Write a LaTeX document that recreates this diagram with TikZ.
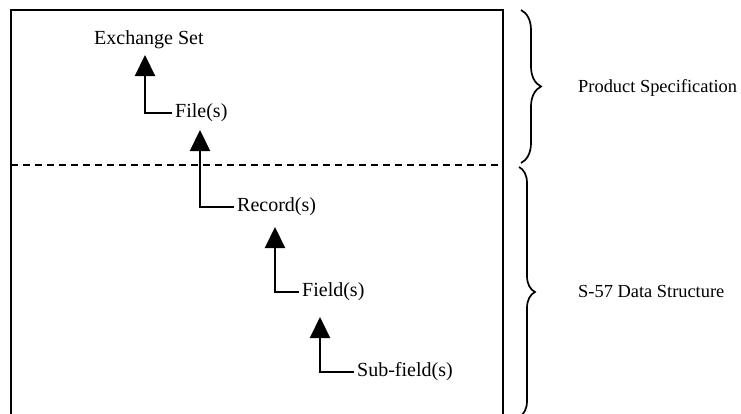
\documentclass[tikz,border=0pt]{standalone}
\usepackage{fontspec}
\setmainfont{Liberation Serif}
\usetikzlibrary{arrows.meta,decorations.pathreplacing}

\begin{document}
\begin{tikzpicture}[x=1pt,y=-1pt,
  lbl/.style={anchor=west,inner sep=0pt,font=\fontsize{20}{23}\selectfont},
  side/.style={anchor=west,inner sep=0pt,font=\fontsize{18.4}{21}\selectfont},
  frame/.style={line width=1.9pt},
  divider/.style={line width=1.5pt,dash pattern=on 7pt off 5pt},
  uparrow/.style={line width=2.2pt,-{Triangle[width=20pt,length=21pt]}},
  bracket/.style={line width=1.7pt,decorate,decoration={brace,amplitude=#1}}
]
\useasboundingbox (0,0) rectangle (741,413);

% outer frame (open at the bottom) and the dashed divider
\draw[frame] (11,420) -- (11,10) -- (503,10) -- (503,420);
\draw[divider] (11,165) -- (503,165);

% hierarchy labels
\node[lbl] (exch)   at (94,40)   {Exchange Set};
\node[lbl] (file)   at (175,113) {File(s)};
\node[lbl] (record) at (237,207) {Record(s)};
\node[lbl] (field)  at (302,292) {Field(s)};
\node[lbl] (sub)    at (357,372) {Sub-field(s)};

% arrow tips just below each parent label
\coordinate (t1) at (145,55);
\coordinate (t2) at (200,130);
\coordinate (t3) at (275,227);
\coordinate (t4) at (320,317);

\draw[uparrow] ([xshift=-3pt]file.west)   -| (t1);
\draw[uparrow] ([xshift=-3pt]record.west) -| (t2);
\draw[uparrow] ([xshift=-3pt]field.west)  -| (t3);
\draw[uparrow] ([xshift=-3pt]sub.west)    -| (t4);

% braces and their captions
\coordinate (b1s) at (521,10);
\coordinate (b1e) at (521,163);
\coordinate (b2s) at (519,167);
\coordinate (b2e) at (519,417);
\draw[bracket=20pt] (b1s) -- (b1e);
\draw[bracket=16pt] (b2s) -- (b2e);

\node[side] (prod) at (578,88)  {Product Specification};
\node[side] (s57)  at (578,291) {S-57 Data Structure};
\end{tikzpicture}
\end{document}
